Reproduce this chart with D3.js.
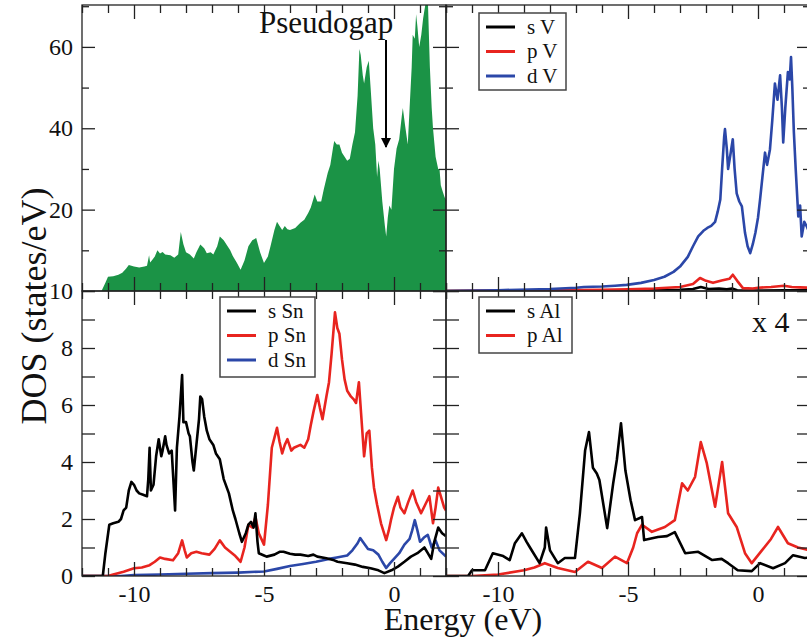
<!DOCTYPE html>
<html>
<head>
<meta charset="utf-8">
<script src="https://cdn.jsdelivr.net/npm/d3@7"></script>
<style>
  body { margin: 0; background: #fff; }
  svg text { font-family: "Liberation Serif", "Times New Roman", serif; fill: #111; }
</style>
</head>
<body>
<div id="chart"></div>
<script>
// DOS curves, pairs of [energy (eV), DOS (states/eV)]
let totalDos = [[-12,0],[-11.25,0],[-11.1,2],[-11.0,3.5],[-10.8,3.6],[-10.6,4],[-10.45,4.5],[-10.3,5.5],[-10.2,6.4],[-10.1,6.2],[-10.0,6],[-9.8,5.8],[-9.6,6],[-9.5,6.2],[-9.42,8.8],[-9.38,7],[-9.3,7.6],[-9.2,8.5],[-9.1,10],[-9.0,9.2],[-8.9,9.6],[-8.8,9],[-8.6,8.8],[-8.45,8.2],[-8.3,9],[-8.2,14.5],[-8.1,11.5],[-8.0,9.5],[-7.85,9],[-7.7,8],[-7.6,9.5],[-7.45,11.4],[-7.3,10.5],[-7.2,9.3],[-7.05,9.5],[-6.95,9],[-6.8,11],[-6.7,13.4],[-6.55,12.5],[-6.4,11],[-6.3,10],[-6.2,8.6],[-6.05,7],[-5.9,5.2],[-5.75,7.5],[-5.6,11],[-5.45,12.5],[-5.3,13],[-5.15,9.5],[-5.0,6.9],[-4.85,8.5],[-4.75,11],[-4.6,15],[-4.5,17],[-4.4,16],[-4.3,15],[-4.2,16],[-4.1,15.2],[-4.0,15],[-3.8,15.5],[-3.6,16.8],[-3.45,17.5],[-3.3,19.2],[-3.2,20.5],[-3.05,23.7],[-2.95,22],[-2.8,22],[-2.7,25],[-2.55,29],[-2.45,31],[-2.35,35],[-2.3,36.9],[-2.2,36],[-2.1,36],[-2.0,34],[-1.9,33],[-1.8,32],[-1.7,32.5],[-1.6,36],[-1.5,39],[-1.4,48],[-1.33,59.5],[-1.28,58],[-1.2,53],[-1.15,51],[-1.05,55],[-0.97,56.6],[-0.9,50],[-0.8,40],[-0.72,36],[-0.65,28],[-0.6,32],[-0.55,30],[-0.45,22],[-0.35,16],[-0.3,13.4],[-0.24,18],[-0.18,21],[-0.1,20],[0,30],[0.1,35],[0.2,37.3],[0.3,43],[0.34,45],[0.42,41],[0.53,36],[0.6,45],[0.68,55],[0.72,63],[0.8,62],[0.85,68],[0.9,65],[0.97,60],[1.05,63],[1.12,67],[1.17,69],[1.25,72],[1.3,72],[1.38,55],[1.45,45],[1.5,40],[1.6,33],[1.7,30],[1.75,30],[1.8,26],[1.87,24.5],[1.95,23],[2.0,22.5]];

let vS = [[-12,0],[-6,0.05],[-4,0.15],[-3,0.3],[-2.5,0.5],[-2.2,1.0],[-1.9,0.5],[-1.5,0.6],[-1.2,0.4],[-1.0,0.6],[-0.8,0.2],[0,0.1],[1,0.2],[2,0.15]];
let vP = [[-12,0],[-10,0.1],[-8,0.2],[-6,0.3],[-5,0.4],[-4,0.6],[-3.5,0.8],[-3,1.0],[-2.5,1.7],[-2.23,3.2],[-2.0,2.5],[-1.73,2.0],[-1.4,2.6],[-1.1,3.0],[-0.97,4.0],[-0.8,2.5],[-0.58,0.7],[-0.2,0.6],[0,0.8],[0.5,1.0],[1.0,1.3],[1.3,1.0],[1.6,0.9],[2,0.8]];
let vD = [[-12,0],[-10,0.2],[-8,0.5],[-7,0.8],[-6.7,1.0],[-6,1.1],[-5.5,1.3],[-5.05,1.5],[-4.5,2.0],[-4.0,2.7],[-3.6,3.5],[-3.25,4.7],[-3.0,6],[-2.7,8.4],[-2.5,11],[-2.3,13.4],[-2.1,14.8],[-1.95,15.5],[-1.8,16],[-1.65,17],[-1.55,19.5],[-1.45,22.5],[-1.38,30],[-1.3,38],[-1.27,39.8],[-1.2,35],[-1.15,30],[-1.05,34],[-0.97,37.3],[-0.9,30],[-0.82,24],[-0.72,22],[-0.62,20.8],[-0.55,17],[-0.5,14.3],[-0.4,11],[-0.3,9.3],[-0.2,11.5],[-0.1,14.3],[0.0,18],[0.08,22.5],[0.17,28],[0.27,34],[0.35,31],[0.46,34.8],[0.55,42],[0.65,51],[0.75,47],[0.85,53],[0.92,45],[0.97,36.5],[1.05,45],[1.15,53.8],[1.22,52],[1.27,57.5],[1.32,50],[1.38,39],[1.45,30],[1.55,18.3],[1.62,21],[1.68,13.4],[1.78,17],[1.88,15.8],[2.0,14]];

let snS = [[-12,0],[-11.2,0],[-11.1,0.8],[-10.95,1.8],[-10.8,1.85],[-10.6,1.9],[-10.5,2.0],[-10.4,2.3],[-10.3,2.4],[-10.2,3.0],[-10.1,3.3],[-10.0,3.2],[-9.9,3.0],[-9.8,2.9],[-9.65,2.85],[-9.5,2.8],[-9.45,3.4],[-9.4,4.5],[-9.35,3.0],[-9.25,3.2],[-9.15,4.2],[-9.05,4.8],[-8.95,4.2],[-8.9,4.4],[-8.8,4.9],[-8.75,4.6],[-8.65,4.3],[-8.55,4.4],[-8.5,3.6],[-8.42,2.3],[-8.35,4.5],[-8.25,5.6],[-8.15,7.05],[-8.1,5.4],[-8.0,5.4],[-7.9,5.0],[-7.85,4.9],[-7.75,4.0],[-7.7,3.7],[-7.6,4.6],[-7.5,5.5],[-7.45,6.3],[-7.38,6.2],[-7.3,5.6],[-7.2,5.1],[-7.1,4.8],[-6.95,4.6],[-6.85,4.3],[-6.7,4.1],[-6.55,3.4],[-6.35,2.9],[-6.2,2.3],[-6.1,2.0],[-5.95,1.5],[-5.85,1.2],[-5.7,1.5],[-5.6,1.8],[-5.5,1.9],[-5.4,1.7],[-5.33,2.2],[-5.25,1.2],[-5.2,0.8],[-5.0,0.72],[-4.9,0.68],[-4.6,0.75],[-4.4,0.85],[-4.25,0.85],[-4.0,0.78],[-3.8,0.75],[-3.6,0.75],[-3.3,0.7],[-3.1,0.75],[-2.95,0.68],[-2.6,0.62],[-2.3,0.55],[-2.17,0.5],[-1.8,0.45],[-1.5,0.4],[-1.2,0.32],[-0.9,0.27],[-0.6,0.2],[-0.37,0.1],[-0.1,0.2],[0.15,0.33],[0.4,0.5],[0.65,0.68],[0.9,0.8],[1.17,1.0],[1.3,0.8],[1.43,0.6],[1.55,1.2],[1.7,1.7],[1.85,1.5],[2.0,1.4]];
let snP = [[-12,0],[-11.0,0],[-10.8,0.05],[-10.4,0.15],[-10.0,0.27],[-9.7,0.3],[-9.4,0.38],[-9.2,0.5],[-9.0,0.65],[-8.8,0.6],[-8.5,0.55],[-8.3,0.8],[-8.15,1.25],[-8.05,0.9],[-7.97,0.65],[-7.8,0.8],[-7.6,0.85],[-7.4,0.8],[-7.1,0.75],[-6.9,0.95],[-6.7,1.25],[-6.5,1.0],[-6.3,0.85],[-6.1,0.7],[-5.9,0.5],[-5.75,1.0],[-5.6,1.8],[-5.45,1.7],[-5.33,2.07],[-5.2,1.5],[-5.0,1.1],[-4.85,2.5],[-4.7,4.5],[-4.5,5.2],[-4.4,4.7],[-4.3,4.3],[-4.2,4.6],[-4.1,4.8],[-3.95,4.4],[-3.85,4.5],[-3.6,4.6],[-3.45,4.5],[-3.3,4.8],[-3.2,5.3],[-3.1,5.75],[-2.95,6.35],[-2.85,5.9],[-2.75,5.5],[-2.6,6.3],[-2.5,6.8],[-2.4,7.8],[-2.27,9.25],[-2.18,8.7],[-2.1,8.5],[-2.0,7.6],[-1.9,6.9],[-1.8,6.5],[-1.66,6.3],[-1.55,6.2],[-1.46,6.07],[-1.35,6.8],[-1.25,5.5],[-1.15,4.2],[-1.05,5.0],[-0.95,5.1],[-0.85,3.8],[-0.77,3.1],[-0.65,2.5],[-0.5,1.85],[-0.3,1.26],[-0.2,1.6],[-0.12,1.95],[0.0,2.4],[0.15,2.78],[0.25,2.4],[0.4,2.2],[0.55,2.6],[0.72,3.0],[0.85,2.6],[1.04,2.2],[1.2,2.5],[1.36,2.8],[1.5,1.85],[1.6,2.4],[1.7,3.1],[1.8,2.8],[1.93,2.4],[2.0,2.3]];
let snD = [[-12,0],[-10.5,0],[-10.0,0.03],[-9,0.05],[-8,0.08],[-7,0.1],[-6,0.12],[-5,0.16],[-4.5,0.25],[-4,0.35],[-3.5,0.42],[-3,0.5],[-2.5,0.6],[-2.2,0.65],[-1.8,0.72],[-1.6,0.9],[-1.4,1.15],[-1.3,1.33],[-1.2,1.2],[-1.0,0.95],[-0.8,0.9],[-0.6,0.75],[-0.45,0.5],[-0.3,0.28],[-0.15,0.45],[0,0.6],[0.2,0.8],[0.4,1.1],[0.6,1.3],[0.7,1.6],[0.8,1.96],[0.9,1.6],[1.0,1.2],[1.15,1.35],[1.3,1.44],[1.45,1.0],[1.6,1.25],[1.75,0.9],[2.0,0.68]];

// Al values are shown multiplied by 4
let alS = [[-12,0],[-11.15,0],[-11.0,0.2],[-10.5,0.2],[-10.2,0.8],[-9.8,0.7],[-9.55,0.56],[-9.35,1.15],[-9.08,1.5],[-8.9,1.2],[-8.77,1.0],[-8.4,0.45],[-8.2,1.0],[-8.15,1.7],[-8.0,0.9],[-7.7,0.45],[-7.43,0.63],[-7.04,0.63],[-6.85,2.2],[-6.65,4.4],[-6.5,5.05],[-6.35,3.8],[-6.2,3.6],[-6.1,3.37],[-5.8,1.68],[-5.57,3.25],[-5.43,4.07],[-5.27,5.36],[-5.1,3.7],[-4.9,2.66],[-4.73,1.96],[-4.46,2.07],[-4.38,1.26],[-3.85,1.37],[-3.5,1.4],[-3.2,1.54],[-2.8,0.8],[-2.3,0.85],[-1.76,0.56],[-1.4,0.6],[-1.15,0.45],[-0.78,0.2],[-0.24,0.17],[0.08,0.45],[0.58,0.27],[1.04,0.45],[1.35,0.73],[1.8,0.63],[2.0,0.65]];
let alP = [[-12,0],[-11.0,0],[-10.0,0.05],[-9.0,0.2],[-8.6,0.3],[-8.2,0.45],[-7.7,0.28],[-7.04,0.14],[-6.54,0.5],[-6.0,0.28],[-5.5,0.68],[-5.04,0.45],[-4.8,1.0],[-4.65,1.5],[-4.46,1.8],[-4.08,1.55],[-3.58,1.72],[-3.2,1.96],[-2.92,3.25],[-2.7,3.0],[-2.42,3.48],[-2.2,4.7],[-1.97,3.96],[-1.65,2.43],[-1.38,4.0],[-1.15,2.2],[-0.82,1.72],[-0.5,0.8],[-0.24,0.45],[0.15,0.9],[0.5,1.3],[0.77,1.72],[1.15,1.15],[1.54,1.0],[2.0,0.9]];

let energyMajor = [-10, -5, 0];
let energyMinor = [-12, -11, -9, -8, -7, -6, -4, -3, -2, -1, 1, 2];
let totalMajor = [0, 20, 40, 60];
let totalMinor = [10, 30, 50, 70];
let partialTicks = [0, 1, 2, 3, 4, 5, 6, 7, 8, 9, 10];
let partialLabels = [0, 2, 4, 6, 8, 10];

const GREEN = "#1b9346", BLACK = "#000", RED = "#e8241f", BLUE = "#2b47a8";

let svg = d3.select("#chart").append("svg")
  .attr("width", 807)
  .attr("height", 639);

let clipCount = 0;

// one frame of the 2x2 grid
function drawPanel(p) {
  let x = d3.scaleLinear().domain([-12, 2]).range([p.x0, p.x1]);
  let y = d3.scaleLinear().domain(p.yDomain).range([p.y1, p.y0]);

  let id = "clip" + (clipCount++);
  svg.append("clipPath").attr("id", id)
    .append("rect")
    .attr("x", p.x0).attr("y", p.y0)
    .attr("width", p.x1 - p.x0).attr("height", p.y1 - p.y0);

  let g = svg.append("g").attr("clip-path", "url(#" + id + ")");

  if (p.fill) {
    g.append("path")
      .datum(p.fill)
      .attr("fill", GREEN)
      .attr("d", d3.area().x(d => x(d[0])).y0(y(0)).y1(d => y(d[1])));
  }

  p.series.forEach(s => {
    g.append("path")
      .datum(s.values)
      .attr("fill", "none")
      .attr("stroke", s.color)
      .attr("stroke-width", 2.6)
      .attr("stroke-linejoin", "round")
      .attr("d", d3.line().x(d => x(d[0])).y(d => y(d[1])));
  });

  // inward ticks on all four sides
  let tickSets = [
    [d3.axisBottom(x).tickValues(energyMajor).tickSize(-14), "translate(0," + p.y1 + ")"],
    [d3.axisBottom(x).tickValues(energyMinor).tickSize(-8), "translate(0," + p.y1 + ")"],
    [d3.axisTop(x).tickValues(energyMajor).tickSize(-14), "translate(0," + p.y0 + ")"],
    [d3.axisTop(x).tickValues(energyMinor).tickSize(-8), "translate(0," + p.y0 + ")"],
    [d3.axisLeft(y).tickValues(p.yMajor).tickSize(-13), "translate(" + p.x0 + ",0)"],
    [d3.axisRight(y).tickValues(p.yMajor).tickSize(-13), "translate(" + p.x1 + ",0)"]
  ];
  if (p.yMinor) {
    tickSets.push([d3.axisLeft(y).tickValues(p.yMinor).tickSize(-7), "translate(" + p.x0 + ",0)"]);
    tickSets.push([d3.axisRight(y).tickValues(p.yMinor).tickSize(-7), "translate(" + p.x1 + ",0)"]);
  }
  tickSets.forEach(t => {
    let a = svg.append("g").attr("transform", t[1])
      .call(t[0].tickSizeOuter(0).tickFormat(""));
    a.select(".domain").remove();
    a.selectAll("line").attr("stroke", "#222").attr("stroke-width", 1.3);
  });

  svg.append("rect")
    .attr("x", p.x0).attr("y", p.y0)
    .attr("width", p.x1 - p.x0).attr("height", p.y1 - p.y0)
    .attr("fill", "none")
    .attr("stroke", "#222")
    .attr("stroke-width", 1.3);

  if (p.yLabels) {
    let a = svg.append("g").attr("transform", "translate(" + p.x0 + ",0)")
      .call(d3.axisLeft(y).tickValues(p.yLabels).tickSize(0).tickPadding(9));
    a.select(".domain").remove();
    a.selectAll("text").style("font-size", "24px").style("font-family", "Liberation Serif");
  }
  if (p.xLabels) {
    let a = svg.append("g").attr("transform", "translate(0," + p.y1 + ")")
      .call(d3.axisBottom(x).tickValues(energyMajor).tickSize(0).tickPadding(9)
        .tickFormat(d3.format("d")));
    a.select(".domain").remove();
    a.selectAll("text").style("font-size", "24px").style("font-family", "Liberation Serif")
      .text(d => d < 0 ? "-" + Math.abs(d) : d);
  }
}

function drawLegend(x, y, w, h, items) {
  let g = svg.append("g").attr("transform", "translate(" + x + "," + y + ")");
  g.append("rect").attr("width", w).attr("height", h)
    .attr("fill", "#fff").attr("stroke", "#444").attr("stroke-width", 1.5);
  items.forEach((it, i) => {
    let cy = 14 + i * 24.5;
    g.append("line").attr("x1", 7).attr("x2", 36).attr("y1", cy).attr("y2", cy)
      .attr("stroke", it.color).attr("stroke-width", 3);
    g.append("text").attr("x", 48).attr("y", cy).attr("dy", "0.33em")
      .style("font-size", "21px").text(it.label);
  });
}

drawPanel({ x0: 82, x1: 446, y0: 5, y1: 291, yDomain: [0, 70.3],
  fill: totalDos, series: [], yMajor: totalMajor, yMinor: totalMinor,
  yLabels: [20, 40, 60] });
drawPanel({ x0: 446, x1: 810, y0: 5, y1: 291, yDomain: [0, 70.3],
  series: [{ values: vS, color: BLACK }, { values: vP, color: RED }, { values: vD, color: BLUE }],
  yMajor: totalMajor, yMinor: totalMinor });
drawPanel({ x0: 82, x1: 446, y0: 291, y1: 576, yDomain: [0, 10],
  series: [{ values: snD, color: BLUE }, { values: snP, color: RED }, { values: snS, color: BLACK }],
  yMajor: partialTicks, yLabels: partialLabels, xLabels: true });
drawPanel({ x0: 446, x1: 810, y0: 291, y1: 576, yDomain: [0, 10],
  series: [{ values: alP, color: RED }, { values: alS, color: BLACK }],
  yMajor: partialTicks, xLabels: true });

drawLegend(479, 13, 87, 77, [{ label: "s V", color: BLACK }, { label: "p V", color: RED }, { label: "d V", color: BLUE }]);
drawLegend(220, 297, 95, 80, [{ label: "s Sn", color: BLACK }, { label: "p Sn", color: RED }, { label: "d Sn", color: BLUE }]);
drawLegend(479, 297, 93, 56, [{ label: "s Al", color: BLACK }, { label: "p Al", color: RED }]);

// annotations
svg.append("defs").append("marker")
  .attr("id", "arrow").attr("viewBox", "0 0 10 10")
  .attr("refX", 9).attr("refY", 5)
  .attr("markerWidth", 5).attr("markerHeight", 5)
  .attr("orient", "auto")
  .append("path").attr("d", "M0,0 L10,5 L0,10 z").attr("fill", "#000");

svg.append("line")
  .attr("x1", 386).attr("y1", 40).attr("x2", 386).attr("y2", 147)
  .attr("stroke", "#000").attr("stroke-width", 2)
  .attr("marker-end", "url(#arrow)");

svg.append("text").attr("x", 259).attr("y", 33)
  .style("font-size", "31px").text("Pseudogap");

svg.append("text").attr("x", 752).attr("y", 332)
  .style("font-size", "30px").text("x 4");

svg.append("text").attr("x", 463).attr("y", 630)
  .attr("text-anchor", "middle")
  .style("font-size", "32px").text("Energy (eV)");

svg.append("text")
  .attr("transform", "translate(46,306) rotate(-90)")
  .attr("text-anchor", "middle")
  .style("font-size", "36px").text("DOS (states/eV)");
</script>
</body>
</html>
